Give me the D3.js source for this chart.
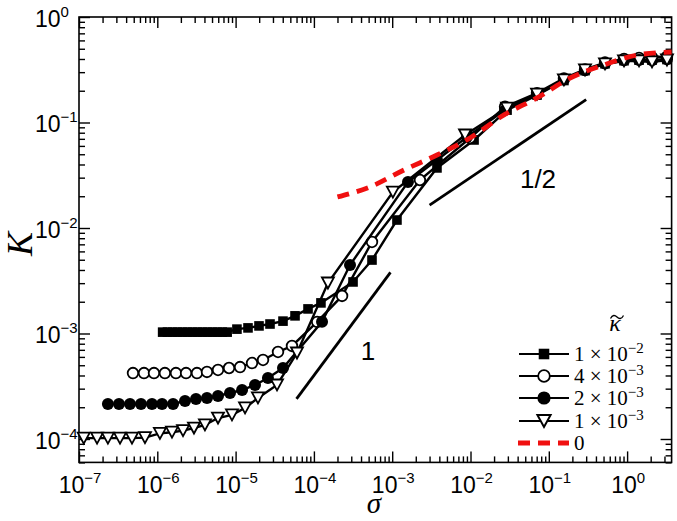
<!DOCTYPE html>
<html><head><meta charset="utf-8">
<script src="https://cdn.jsdelivr.net/npm/d3@7"></script>
<style>body{margin:0;background:#fff}svg{display:block}</style>
</head><body><svg id="c" width="677" height="521"></svg>
<script>
// ---------- data ----------
// kappa = 1e-2 (filled squares)
const sigma1 = [1.17e-6,1.35e-6,1.57e-6,1.81e-6,2.1e-6,2.43e-6,2.81e-6,3.25e-6,3.76e-6,4.35e-6,5.03e-6,5.82e-6,6.74e-6,7.8e-6,
  1.04e-5,1.44e-5,1.99e-5,2.75e-5,4.03e-5,5.74e-5,8.41e-5,1.23e-4,3.16e-4,5.52e-4,
  1.15e-3,3.73e-3,1.11e-2,2.93e-2,7.07e-2,0.156,0.29,0.522,0.913,1.42,2.08,3.23];
const K1 = [1.03e-3,1.03e-3,1.03e-3,1.03e-3,1.03e-3,1.03e-3,1.03e-3,1.03e-3,1.03e-3,1.03e-3,1.03e-3,1.03e-3,1.03e-3,1.03e-3,
  1.10e-3,1.13e-3,1.18e-3,1.23e-3,1.31e-3,1.47e-3,1.71e-3,1.95e-3,3.08e-3,4.97e-3,
  1.19e-2,3.71e-2,6.83e-2,0.131,0.182,0.25,0.31,0.36,0.385,0.39,0.39,0.395];
// kappa = 4e-3 (open circles)
const sigma2 = [4.89e-7,6.76e-7,9.07e-7,1.25e-6,1.73e-6,2.33e-6,3.21e-6,4.31e-6,5.96e-6,8.24e-6,1.14e-5,1.62e-5,2.24e-5,3.48e-5,5.25e-5,
  1.10e-4,2.29e-4,5.52e-4,2.26e-3,9.86e-3,2.76e-2,7.07e-2,0.156,0.29,0.522,0.913,1.42,2.08,3.23];
const K2 = [4.22e-4,4.22e-4,4.22e-4,4.22e-4,4.22e-4,4.22e-4,4.22e-4,4.32e-4,4.51e-4,4.71e-4,4.81e-4,5.25e-4,5.61e-4,6.68e-4,7.62e-4,
  1.29e-3,2.27e-3,7.37e-3,2.85e-2,7.13e-2,0.141,0.19,0.262,0.318,0.37,0.40,0.41,0.415,0.42];
// kappa = 2e-3 (filled circles)
const sigma3 = [2.34e-7,3.24e-7,4.48e-7,6.19e-7,8.55e-7,1.15e-6,1.59e-6,2.26e-6,3.12e-6,4.31e-6,5.96e-6,8.48e-6,1.21e-5,1.77e-5,2.59e-5,4.03e-5,
  1.27e-4,2.89e-4,1.59e-3,3.73e-3,9.02e-3,2.76e-2,7.07e-2,0.156,0.29,0.522,0.913,1.42,2.08,3.23];
const K3 = [2.15e-4,2.15e-4,2.15e-4,2.15e-4,2.15e-4,2.15e-4,2.15e-4,2.29e-4,2.39e-4,2.45e-4,2.56e-4,2.73e-4,2.91e-4,3.25e-4,3.79e-4,4.71e-4,
  1.29e-3,4.46e-3,2.73e-2,4.41e-2,7.29e-2,0.131,0.185,0.255,0.312,0.362,0.388,0.392,0.39,0.398];
// kappa = 1e-3 (open down-triangles)
const sigma4 = [1.15e-7,1.70e-7,2.34e-7,3.34e-7,4.75e-7,6.96e-7,1.08e-6,1.54e-6,2.13e-6,2.94e-6,4.06e-6,5.96e-6,8.99e-6,1.32e-5,1.93e-5,3.38e-5,
  6.08e-5,1.51e-4,1.02e-3,8.51e-3,2.93e-2,7.07e-2,0.156,0.29,0.522,0.913,1.42,2.08,3.23];
const K4 = [1.02e-4,1.02e-4,1.02e-4,1.02e-4,1.02e-4,1.03e-4,1.13e-4,1.16e-4,1.2e-4,1.27e-4,1.36e-4,1.58e-4,1.69e-4,1.97e-4,2.45e-4,3.25e-4,
  6.53e-4,3.01e-3,2.19e-2,7.61e-2,0.137,0.186,0.253,0.315,0.359,0.383,0.383,0.375,0.391];
// kappa = 0 (red dashed)
const sigma0 = [2.0e-4,5.2e-4,1.42e-3,3.73e-3,9.86e-3,2.68e-2,7.07e-2,0.187,0.507,1.34,3.7];
const K0 = [0.0197,0.0245,0.0355,0.0492,0.0713,0.118,0.171,0.264,0.351,0.436,0.466];
// guide lines
const slope1Sigma = [6e-5, 9.5e-4];
const slope1K = [2.4e-4, 3.8e-3];
const slopeHalfSigma = [3e-3, 0.3];
const slopeHalfK = [0.0165, 0.165];
// labels
const legendMant = ["1","4","2","1"];
const legendExp = ["−2","−3","−3","−3"];
const xTickExp = [-7,-6,-5,-4,-3,-2,-1,0];
const yTickExp = [-4,-3,-2,-1,0];

// ---------- drawing ----------
const svg = d3.select("#c");
const L = 79, R = 671.6, T = 17, B = 462.4;
const x = d3.scaleLog().domain([1e-7, 3.7]).range([L, R]);
const y = d3.scaleLog().domain([6e-5, 1]).range([B, T]);

function minors(dom){
  const out=[]; const e0=Math.floor(Math.log10(dom[0])), e1=Math.ceil(Math.log10(dom[1]));
  for(let e=e0;e<=e1;e++) for(let m=2;m<=9;m++){const v=m*Math.pow(10,e); if(v>=dom[0]*0.999&&v<=dom[1]*1.001) out.push(v);}
  return out;
}
const xMaj = xTickExp.map(e=>Math.pow(10,e)), yMaj = yTickExp.map(e=>Math.pow(10,e));
const xMin = minors(x.domain()), yMin = minors(y.domain());

function addAxis(gen, tx, ty, vals, size){
  const g = svg.append("g").attr("transform",`translate(${tx},${ty})`)
    .call(gen.tickValues(vals).tickSize(-size).tickFormat(""));
  g.select(".domain").remove();
  g.selectAll("line").attr("stroke","#000").attr("stroke-width",1.4);
}
addAxis(d3.axisBottom(x), 0, B, xMaj, 11);
addAxis(d3.axisBottom(x), 0, B, xMin, 6);
addAxis(d3.axisTop(x), 0, T, xMaj, 11);
addAxis(d3.axisTop(x), 0, T, xMin, 6);
addAxis(d3.axisLeft(y), L, 0, yMaj, 11);
addAxis(d3.axisLeft(y), L, 0, yMin, 6);
addAxis(d3.axisRight(y), R, 0, yMaj, 11);
addAxis(d3.axisRight(y), R, 0, yMin, 6);

svg.append("rect").attr("x",L).attr("y",T).attr("width",R-L).attr("height",B-T)
  .attr("fill","none").attr("stroke","#000").attr("stroke-width",1.6);

const sans = "'Liberation Sans', Arial, Helvetica, sans-serif";
const serif = "'Liberation Serif', 'Times New Roman', serif";
function pow10Label(sel, e){
  sel.append("tspan").text("10");
  sel.append("tspan").attr("dy",-10).attr("font-size",15).text(e<0?"−"+Math.abs(e):String(e));
}
xTickExp.forEach(e=>{
  const t = svg.append("text").attr("x",x(Math.pow(10,e))+1).attr("y",493)
    .attr("text-anchor","middle").attr("font-family",sans).attr("font-size",23);
  pow10Label(t,e);
});
yTickExp.forEach(e=>{
  const t = svg.append("text").attr("x",35).attr("y",y(Math.pow(10,e))+10)
    .attr("text-anchor","start").attr("font-family",sans).attr("font-size",23);
  pow10Label(t,e);
});

// axis titles
svg.append("text").attr("transform","translate(32,244) rotate(-90)").attr("text-anchor","middle")
  .attr("font-family",serif).attr("font-style","italic").attr("font-size",36).text("K");
svg.append("text").attr("x",374).attr("y",513).attr("text-anchor","middle")
  .attr("font-family",serif).attr("font-style","italic").attr("font-size",29).text("σ");

// guide lines
const lineGen = d3.line().x(d=>x(d[0])).y(d=>y(d[1]));
svg.append("path").attr("d",lineGen(d3.zip(slope1Sigma,slope1K))).attr("stroke","#000").attr("stroke-width",2.8).attr("fill","none");
svg.append("path").attr("d",lineGen(d3.zip(slopeHalfSigma,slopeHalfK))).attr("stroke","#000").attr("stroke-width",2.8).attr("fill","none");
svg.append("text").attr("x",368).attr("y",360).attr("text-anchor","middle").attr("font-family",sans).attr("font-size",26).text("1");
svg.append("text").attr("x",538).attr("y",188).attr("text-anchor","middle").attr("font-family",sans).attr("font-size",26).text("1/2");

// markers
const triPath = "M-6,-5.5L6,-5.5L0,5.5Z";
function drawMarker(g, type, cx, cy, s){
  s = s||1;
  if(type==="sq") g.append("rect").attr("x",cx-4.8*s).attr("y",cy-4.8*s).attr("width",9.6*s).attr("height",9.6*s).attr("fill","#000");
  else if(type==="oc") g.append("circle").attr("cx",cx).attr("cy",cy).attr("r",5.3*s).attr("fill","#fff").attr("stroke","#000").attr("stroke-width",1.8);
  else if(type==="fc") g.append("circle").attr("cx",cx).attr("cy",cy).attr("r",6*s).attr("fill","#000");
  else if(type==="tri") g.append("path").attr("d",triPath).attr("transform",`translate(${cx},${cy}) scale(${s})`).attr("fill","#fff").attr("stroke","#000").attr("stroke-width",1.8);
}
const series = [
  {s:sigma1,k:K1,m:"sq"},
  {s:sigma2,k:K2,m:"oc"},
  {s:sigma3,k:K3,m:"fc"},
  {s:sigma4,k:K4,m:"tri"}
];
series.forEach(ser=>{
  const pts = d3.zip(ser.s, ser.k);
  const g = svg.append("g");
  g.append("path").attr("d",lineGen(pts)).attr("stroke","#000").attr("stroke-width",2.4).attr("fill","none");
  pts.forEach(p=>drawMarker(g, ser.m, x(p[0]), y(p[1])));
});
// kappa = 0
const smooth = d3.line().x(d=>x(d[0])).y(d=>y(d[1])).curve(d3.curveMonotoneX);
svg.append("path").attr("d",smooth(d3.zip(sigma0,K0))).attr("stroke","#f01010").attr("stroke-width",4.8)
  .attr("stroke-dasharray","12,8").attr("fill","none");

// legend title: kappa with tilde accent (accent drawn as a small wave)
svg.append("text").attr("x",615).attr("y",331).attr("text-anchor","middle").attr("font-family",serif)
  .attr("font-style","italic").attr("font-size",24).text("κ");
svg.append("path").attr("d","M610.5,318.5 C612.5,314.5 615,315 617,317 S621.5,319.5 623.5,315.5")
  .attr("fill","none").attr("stroke","#000").attr("stroke-width",1.3);
const rowY = [354,376,398,421,443];
const lg = svg.append("g");
series.forEach((ser,i)=>{
  lg.append("line").attr("x1",519).attr("x2",569).attr("y1",rowY[i]).attr("y2",rowY[i]).attr("stroke","#000").attr("stroke-width",2.2);
  drawMarker(lg, ser.m, 544, rowY[i], 1.1);
  const t = lg.append("text").attr("x",574).attr("y",rowY[i]+7).attr("font-family",serif).attr("font-size",21);
  t.append("tspan").text(legendMant[i]+" × 10");
  t.append("tspan").attr("dy",-8).attr("font-size",15).text(legendExp[i]);
});
lg.append("line").attr("x1",518).attr("x2",569).attr("y1",rowY[4]).attr("y2",rowY[4]).attr("stroke","#f01010")
  .attr("stroke-width",4.8).attr("stroke-dasharray","12,8");
lg.append("text").attr("x",574).attr("y",rowY[4]+7).attr("font-family",serif).attr("font-size",21).text("0");
</script>
</body></html>
